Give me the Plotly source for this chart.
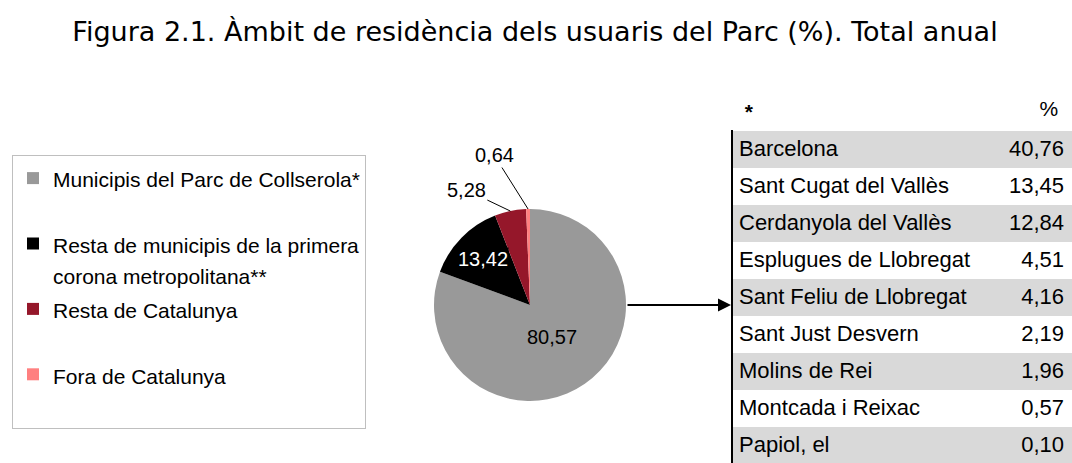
import math
import plotly.graph_objects as go

# ---------------- data ----------------
categories = [
    "Municipis del Parc de Collserola*",
    "Resta de municipis de la primera corona metropolitana**",
    "Resta de Catalunya",
    "Fora de Catalunya",
]
legend_text = [
    "Municipis del Parc de Collserola*<br> ",
    "Resta de municipis de la primera<br>corona metropolitana**",
    "Resta de Catalunya<br> ",
    "Fora de Catalunya<br> ",
]
shares = [80.57, 13.42, 5.28, 0.64]
slice_colors = ["#999999", "#000000", "#95172a", "#ff8080"]

municipalities = [
    "Barcelona", "Sant Cugat del Vallès", "Cerdanyola del Vallès",
    "Esplugues de Llobregat", "Sant Feliu de Llobregat", "Sant Just Desvern",
    "Molins de Rei", "Montcada i Reixac", "Papiol, el",
]
municipality_shares = [40.76, 13.45, 12.84, 4.51, 4.16, 2.19, 1.96, 0.57, 0.10]

title_text = "Figura 2.1. Àmbit de residència dels usuaris del Parc (%). Total anual"

# ---------------- layout helpers ----------------
W, H = 1072, 463
cx, cy, R = 530, 305, 96  # pie centre / radius in px


def px(x):
    return x / W


def py(y):
    return 1 - y / H


def fmt(v):
    return f"{v:.2f}".replace(".", ",")


FONT = "Liberation Sans, Arial, sans-serif"

fig = go.Figure()

fig.add_trace(go.Pie(
    labels=[f"<span style='font-size:21px'>{t}</span>" for t in legend_text],
    values=shares,
    marker=dict(colors=slice_colors, line=dict(width=0)),
    sort=False,
    direction="clockwise",
    rotation=0,
    textinfo="none",
    hoverinfo="label+value",
    domain=dict(x=[px(cx - R), px(cx + R)], y=[py(cy + R), py(cy - R)]),
))

# slice labels, placed from the data (mid-angle of each slice)
total = sum(shares)
cum = 0
annotations = []
inside_r = [0.40, 0.69, None, None]
outside_off = [None, None, (-44, -21), (-34, -54)]
for i, v in enumerate(shares):
    mid = (cum + v / 2) / total
    cum += v
    th = 2 * math.pi * mid
    sx, sy = math.sin(th), -math.cos(th)
    if inside_r[i] is not None:
        r = inside_r[i] * R
        annotations.append(dict(
            x=px(cx + r * sx), y=py(cy + r * sy), xref="paper", yref="paper",
            xanchor="center", yanchor="middle",
            text=fmt(v), showarrow=False,
            font=dict(family=FONT, size=20, color="#ffffff" if i == 1 else "#000000"),
            bgcolor="#000000" if i == 1 else None, borderpad=0,
        ))
    else:
        ax, ay = outside_off[i]
        annotations.append(dict(
            x=px(cx + R * sx), y=py(cy + R * sy), xref="paper", yref="paper",
            text=fmt(v), showarrow=True, arrowhead=0, arrowwidth=1,
            arrowcolor="#000000", ax=ax, ay=ay, standoff=0,
            font=dict(family=FONT, size=20, color="#000000"),
        ))

# arrow from pie to table
annotations.append(dict(
    x=px(731), y=py(cy), xref="paper", yref="paper", text="",
    showarrow=True, arrowhead=2, arrowsize=1.3, arrowwidth=2,
    arrowcolor="#000000", ax=-(731 - (cx + R)), ay=0, standoff=0,
))

# table
row_fill = ["#d9d9d9" if i % 2 == 0 else "#ffffff" for i in range(len(municipalities))]
fig.add_trace(go.Table(
    domain=dict(x=[px(731), 1], y=[0, py(92)]),
    columnwidth=[262, 77],
    header=dict(
        values=["\u00a0<b>*</b>", "%\u00a0"],
        align=["left", "right"],
        fill=dict(color="#ffffff"),
        line=dict(color="#ffffff", width=0),
        font=dict(family=FONT, size=21, color="#000000"),
        height=38,
    ),
    cells=dict(
        values=[municipalities, [fmt(v) for v in municipality_shares]],
        align=["left", "right"],
        fill=dict(color=[row_fill, row_fill]),
        line=dict(color=[row_fill, row_fill], width=1),
        font=dict(family=FONT, size=22, color="#000000"),
        height=37,
    ),
))

fig.update_layout(
    width=W, height=H,
    margin=dict(l=0, r=0, t=0, b=0),
    paper_bgcolor="#ffffff",
    plot_bgcolor="#ffffff",
    separators=",.",
    title=dict(
        text=title_text, x=px(535), xanchor="center", y=py(32), yanchor="middle",
        font=dict(family="DejaVu Sans, Verdana, sans-serif", size=27, color="#000000"),
    ),
    showlegend=True,
    legend=dict(
        x=px(12), y=py(155), xanchor="left", yanchor="top",
        bordercolor="#bfbfbf", borderwidth=1, bgcolor="#ffffff",
        font=dict(family=FONT, size=24, color="#000000"),
        valign="top", traceorder="normal",
    ),
    annotations=annotations,
    shapes=[dict(
        type="line", xref="paper", yref="paper",
        x0=px(732), x1=px(732), y0=py(130), y1=0,
        line=dict(color="#000000", width=2),
    )],
)

fig.write_html(
    "out.html",
    config={"displayModeBar": False},
    post_script="document.body.style.margin='0';",
)
